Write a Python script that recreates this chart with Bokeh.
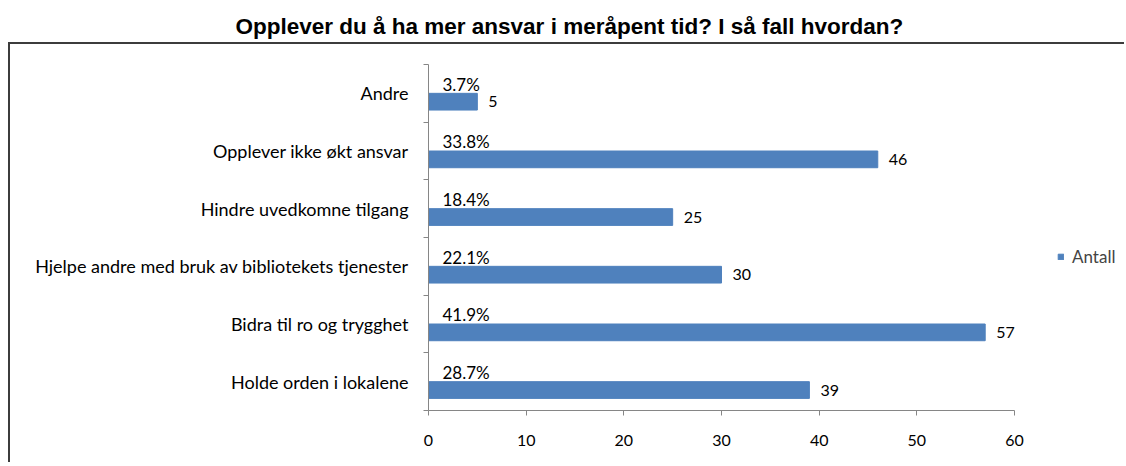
import numpy as np
from bokeh.plotting import figure
from bokeh.models import (ColumnDataSource, Range1d, FixedTicker, LabelSet, Title,
                          Legend, LegendItem, InlineStyleSheet)
from bokeh.core.properties import value
from bokeh.embed import file_html
from bokeh.resources import INLINE

title_text = "Opplever du å ha mer ansvar i meråpent tid? I så fall hvordan?"
# top to bottom as displayed
categories = ["Andre", "Opplever ikke økt ansvar", "Hindre uvedkomne tilgang",
              "Hjelpe andre med bruk av bibliotekets tjenester",
              "Bidra til ro og trygghet", "Holde orden i lokalene"]
counts = [5, 46, 25, 30, 57, 39]
percents = ["3.7%", "33.8%", "18.4%", "22.1%", "41.9%", "28.7%"]
series_name = "Antall"
x_ticks = [0, 10, 20, 30, 40, 50, 60]
x_max = 60

FONT = "Lato"
BLUE = "#4F81BD"
AX = "#868686"

# layout (pixels)
W, H = 1124, 462
LEFT, BOTTOM, TOP = 428, 52, 42
AXIS_W, AXIS_H = 586, 346          # pixel length of the 0..60 axis / category axis
frame_w, frame_h = W - LEFT, H - BOTTOM - TOP

n = len(categories)
centers = (n - 1 - np.arange(n)) + 0.5
src = ColumnDataSource(dict(
    cat=categories, count=counts, pct=percents,
    ybar=centers - 0.145, ypct=centers + 0.16, zero=[0] * n,
    cstr=[str(c) for c in counts],
))

border_css = InlineStyleSheet(css="""
:host { position: relative; }
:host::after {
  content: ""; position: absolute; left: 8px; top: 42px; right: 0; bottom: 0;
  border-top: 2px solid #3c3c3c; border-left: 2px solid #3c3c3c;
  pointer-events: none;
}
""")

p = figure(width=W, height=H, output_backend="svg", toolbar_location=None,
           x_range=Range1d(0, x_max * frame_w / AXIS_W),
           y_range=Range1d(0, n * frame_h / AXIS_H),
           min_border_left=LEFT, min_border_right=0,
           min_border_top=TOP, min_border_bottom=BOTTOM, title=None,
           stylesheets=[border_css])
p.outline_line_color = None
p.grid.visible = False
p.background_fill_color = "white"
p.border_fill_color = "white"

r = p.hbar(y="ybar", height=0.29, left=0, right="count", source=src,
           fill_color=BLUE, line_color=BLUE)

# title
p.add_layout(Title(text=title_text, align="left", offset=235 - LEFT, standoff=7,
                   vertical_align="bottom",
                   text_font="Liberation Sans", text_font_style="bold",
                   text_font_size="22.5px", text_color="#000000"), "above")

# x axis
xa = p.xaxis[0]
xa.bounds = (0, x_max)
xa.ticker = FixedTicker(ticks=x_ticks, minor_ticks=[])
xa.axis_line_color = AX
xa.major_tick_line_color = AX
xa.major_tick_out = 5
xa.major_tick_in = 0
xa.minor_tick_line_color = None
xa.major_label_text_font = FONT
xa.major_label_text_font_size = "16px"
xa.major_label_text_color = "#000000"
xa.major_label_standoff = 19

# y axis
ya = p.yaxis[0]
ya.bounds = (0, n)
ya.ticker = FixedTicker(ticks=list(centers), minor_ticks=list(range(n + 1)))
ya.major_label_overrides = {float(c): lab for c, lab in zip(centers, categories)}
ya.axis_line_color = AX
ya.major_tick_line_color = None
ya.major_tick_out = 0
ya.major_tick_in = 0
ya.minor_tick_line_color = AX
ya.minor_tick_out = 5
ya.minor_tick_in = 0
ya.major_label_text_font = FONT
ya.major_label_text_font_size = "18px"
ya.major_label_text_color = "#000000"
ya.major_label_standoff = 15

# value labels
p.add_layout(LabelSet(x="count", y="ybar", text="cstr", source=src, x_offset=11,
                      text_baseline="middle", text_font=value(FONT),
                      text_font_size="16px", text_color="#000000"))
p.add_layout(LabelSet(x="zero", y="ypct", text="pct", source=src, x_offset=14,
                      text_baseline="middle", text_font=value(FONT),
                      text_font_size="17px", text_color="#000000"))

legend = Legend(items=[LegendItem(label=series_name, renderers=[r])],
                location=(1057 - LEFT, 143), glyph_width=7, glyph_height=7,
                label_text_font=FONT, label_text_font_size="17px",
                label_standoff=8, label_height=20, padding=0, margin=0, spacing=0,
                border_line_color=None, background_fill_color=None)
p.add_layout(legend, "center")

open("out.html", "w").write(file_html(p, INLINE))
